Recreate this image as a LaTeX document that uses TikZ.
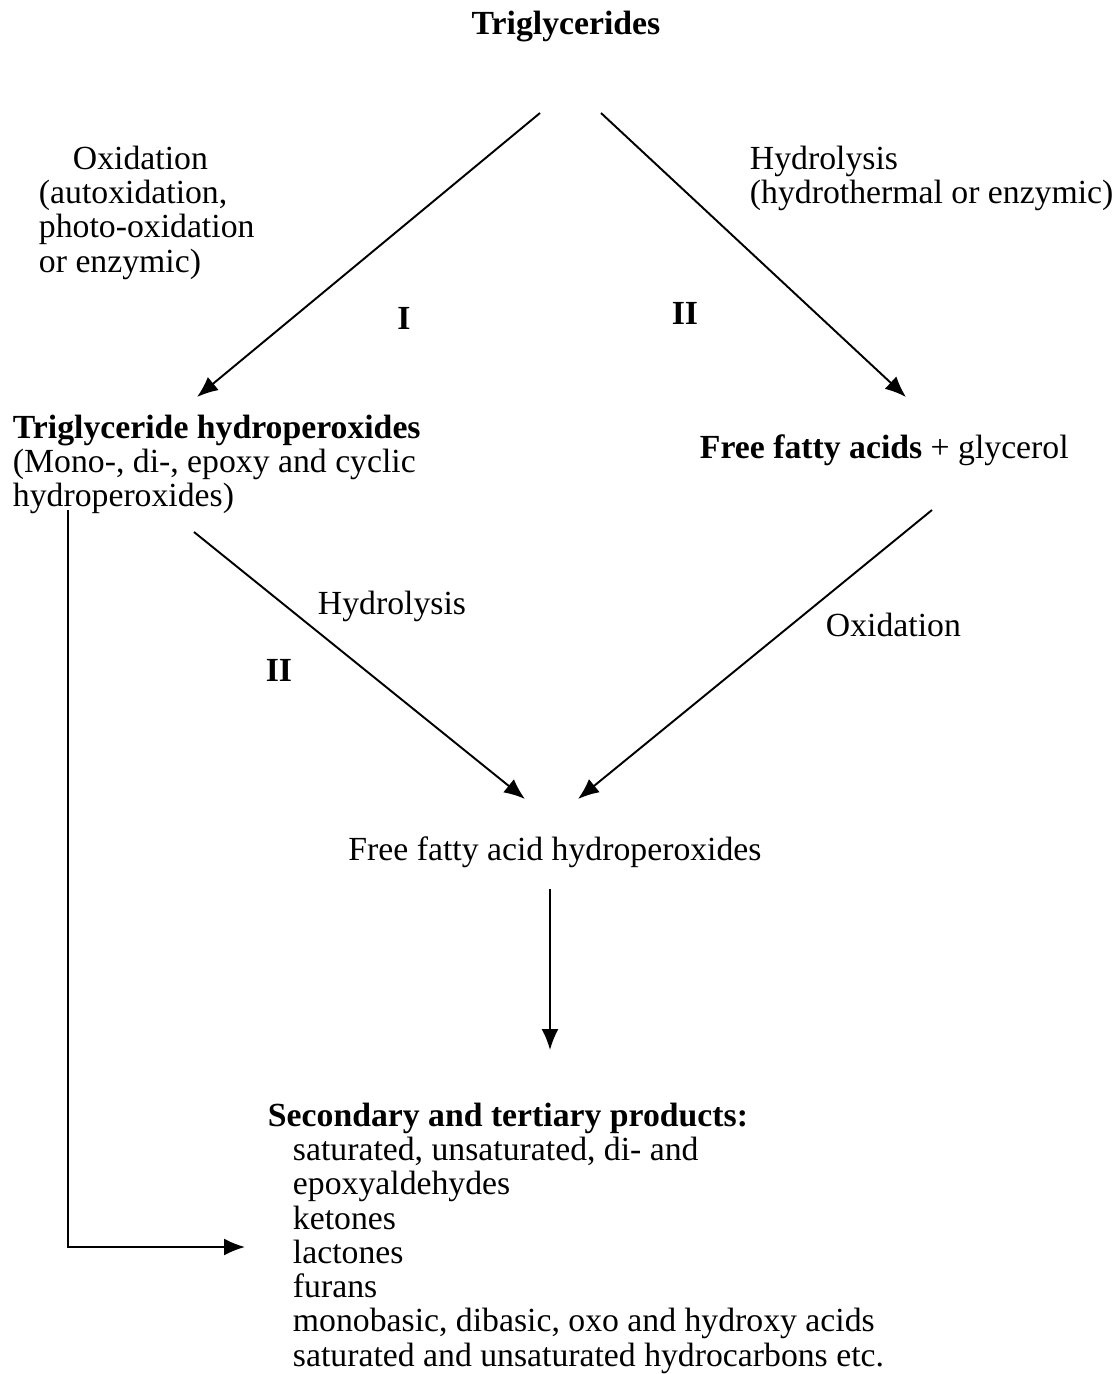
\documentclass[tikz,border=0pt]{standalone}
\usepackage{fontspec}
\setmainfont{Liberation Serif}
\usetikzlibrary{arrows.meta, calc, positioning}

\begin{document}
\begin{tikzpicture}[x=0.02cm, y=-0.02cm, line width=1.1pt,
	txt/.style={inner sep=0pt, font=\fontsize{19.2}{19.5}\selectfont},
	hd/.style={inner sep=0pt, font=\fontsize{19.2}{19.5}\selectfont\bfseries},
	arr/.style={-{Latex[length=0.42cm, width=0.34cm]}}]
	\useasboundingbox (0,0) rectangle (1120,1374);

	% main compounds
	\node [hd, anchor=base] (tg) at (566,34) {Triglycerides};
	\node [txt, anchor=north west, align=left] (th) at (12,414)
		{\textbf{Triglyceride hydroperoxides}\\(Mono-, di-, epoxy and cyclic\\hydroperoxides)};
	\node [txt, anchor=base west] (ffa) at (699,458) {\textbf{Free fatty acids} + glycerol};
	\node [txt, anchor=base] (ffah) at (555,860) {Free fatty acid hydroperoxides};
	\node [txt, anchor=north west, align=left] (sec) at (267,1102)
		{\textbf{Secondary and tertiary products:}\\
		\hspace{0.5cm}saturated, unsaturated, di- and\\
		\hspace{0.5cm}epoxyaldehydes\\
		\hspace{0.5cm}ketones\\
		\hspace{0.5cm}lactones\\
		\hspace{0.5cm}furans\\
		\hspace{0.5cm}monobasic, dibasic, oxo and hydroxy acids\\
		\hspace{0.5cm}saturated and unsaturated hydrocarbons etc.};

	% route labels
	\node [txt, anchor=north west, align=left] (oxlab) at (38,145)
		{\hspace{0.68cm}Oxidation\\(autoxidation,\\photo-oxidation\\or enzymic)};
	\node [txt, anchor=north west, align=left] (hydlab) at (749,145)
		{Hydrolysis\\(hydrothermal or enzymic)};
	\node [hd, anchor=base] (routeI) at (404,329) {I};
	\node [hd, anchor=base] (routeII) at (685,324) {II};
	\node [txt, anchor=base west] (hydlabb) at (317,614) {Hydrolysis};
	\node [hd, anchor=base] (routeIIb) at (279,681) {II};
	\node [txt, anchor=base west] (oxlabb) at (825,636) {Oxidation};

	% arrows
	\draw [arr] ($(tg.base)+(-26,79)$) -- ($(th.north west)+(185,-17)$);
	\draw [arr] ($(tg.base)+(35,79)$) -- ($(ffa.base west)+(207,-61)$);
	\draw [arr] ($(th.north west)+(182,118)$) -- ($(ffah.base)+(-30,-61)$);
	\draw [arr] ($(ffa.base west)+(233,52)$) -- ($(ffah.base)+(23,-61)$);
	\draw [arr] ($(ffah.base)+(-5,29)$) -- ($(ffah.base)+(-5,190)$);
	\draw [arr] ($(th.north west)+(56,96)$) |- ($(sec.north west)+(-22,145)$);
\end{tikzpicture}
\end{document}
